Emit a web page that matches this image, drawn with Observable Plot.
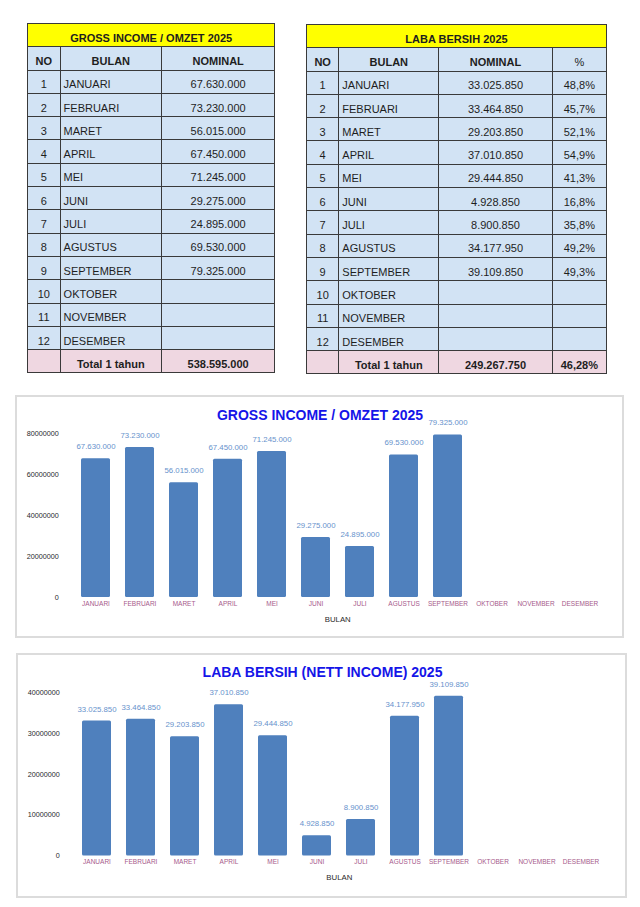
<!DOCTYPE html>
<html>
<head>
<meta charset="utf-8">
<script src="https://cdn.jsdelivr.net/npm/d3@7"></script>
<script src="https://cdn.jsdelivr.net/npm/@observablehq/plot@0.6"></script>
<style>
  html, body { margin: 0; padding: 0; background: #ffffff; }
  body { width: 640px; height: 907px; position: relative; overflow: hidden; font-family: "Liberation Sans", Arial, sans-serif; }
  table.t { position: absolute; border-collapse: collapse; table-layout: fixed; font-size: 11px; color: #1e1e1e; }
  table.t td { border: 1px solid #3a3a3a; background: #d2e3f4; padding: 6px 3px 0 3px; line-height: 13px; white-space: nowrap; overflow: hidden; vertical-align: middle; }
  table.t tr { height: 23.3px; }
  table.t td.hdr { background: #ffff00; font-weight: bold; text-align: center; }
  table.t td.b { font-weight: bold; }
  table.t td.c { text-align: center; }
  table.t td.tot { background: #efd7e1; }
  .box { position: absolute; border: 2px solid #dcdcdc; box-sizing: border-box; background: #fff; }
  .title { position: absolute; transform: translateX(-50%); font: bold 14px "Liberation Sans", Arial, sans-serif; color: #1515e8; white-space: nowrap; line-height: 16px; }
  .chart { position: absolute; }
</style>
</head>
<body>
<script>
// ---- data ----
const months = ["JANUARI","FEBRUARI","MARET","APRIL","MEI","JUNI","JULI","AGUSTUS","SEPTEMBER","OKTOBER","NOVEMBER","DESEMBER"];
const gross = [67630000, 73230000, 56015000, 67450000, 71245000, 29275000, 24895000, 69530000, 79325000, null, null, null];
const nett = [33025850, 33464850, 29203850, 37010850, 29444850, 4928850, 8900850, 34177950, 39109850, null, null, null];
const nettPct = ["48,8%","45,7%","52,1%","54,9%","41,3%","16,8%","35,8%","49,2%","49,3%","","",""];
const grossTotal = 538595000;
const nettTotal = 249267750;
const nettTotalPct = "46,28%";
const grossTicks = [0, 20000000, 40000000, 60000000, 80000000];
const nettTicks = [0, 10000000, 20000000, 30000000, 40000000];
const grossTitle = "GROSS INCOME / OMZET 2025";
const nettTableTitle = "LABA BERSIH 2025";
const nettChartTitle = "LABA BERSIH (NETT INCOME) 2025";

const idFmt = d3.formatLocale({decimal: ",", thousands: ".", grouping: [3], currency: ["", ""]}).format(",d");
const fmt = v => (v == null ? "" : idFmt(v));

// ---- tables ----
function makeTable(left, top, widths, title, rows, totalCells, headers) {
  const t = document.createElement("table");
  t.className = "t";
  t.style.left = left + "px";
  t.style.top = top + "px";
  t.style.width = widths.reduce((a, b) => a + b, 0) + "px";
  let h = "<colgroup>" + widths.map(w => `<col style="width:${w}px">`).join("") + "</colgroup>";
  h += `<tr><td class="hdr" colspan="${widths.length}">${title}</td></tr>`;
  h += "<tr>" + headers.map(x => `<td class="c ${x.bold ? "b" : ""}">${x.text}</td>`).join("") + "</tr>";
  rows.forEach(r => {
    h += "<tr>" + r.map((x, j) => `<td class="${j === 1 ? "" : "c"}">${x}</td>`).join("") + "</tr>";
  });
  h += "<tr>" + totalCells.map(x => `<td class="tot c b">${x}</td>`).join("") + "</tr>";
  t.innerHTML = h;
  document.body.appendChild(t);
}

makeTable(27, 23, [32.6, 101.4, 113.3], grossTitle,
  months.map((m, i) => [i + 1, m, fmt(gross[i])]),
  ["", "Total 1 tahun", fmt(grossTotal)],
  [{text: "NO", bold: true}, {text: "BULAN", bold: true}, {text: "NOMINAL", bold: true}]);

makeTable(306, 24, [32.3, 100, 113.4, 54.3], nettTableTitle,
  months.map((m, i) => [i + 1, m, fmt(nett[i]), nettPct[i]]),
  ["", "Total 1 tahun", fmt(nettTotal), nettTotalPct],
  [{text: "NO", bold: true}, {text: "BULAN", bold: true}, {text: "NOMINAL", bold: true}, {text: "%", bold: false}]);

// ---- charts ----
function addBox(left, top, w, h) {
  const d = document.createElement("div");
  d.className = "box";
  Object.assign(d.style, {left: left + "px", top: top + "px", width: w + "px", height: h + "px"});
  document.body.appendChild(d);
}
function addTitle(text, cx, cy) {
  const d = document.createElement("div");
  d.className = "title";
  d.textContent = text;
  d.style.left = cx + "px";
  d.style.top = (cy - 8) + "px";
  document.body.appendChild(d);
}
function chart(values, ticks, o) {
  const data = months.map((m, i) => ({month: m, value: values[i]}));
  const filled = data.filter(d => d.value != null);
  const svg = Plot.plot({
    width: o.width, height: o.height,
    marginLeft: o.ml, marginRight: o.mr, marginTop: o.mt, marginBottom: o.mb,
    style: {fontFamily: "'Liberation Sans', Arial, sans-serif", background: "transparent", overflow: "visible"},
    x: {domain: months, paddingInner: 0.35, paddingOuter: 0.175, label: null},
    y: {domain: [0, ticks[ticks.length - 1]], label: null},
    marks: [
      Plot.barY(filled, {x: "month", y: "value", fill: "#4f80bd", rx: 1.5}),
      Plot.text(filled, {x: "month", y: "value", text: d => fmt(d.value), dy: -12, fill: "#6792cc", fontSize: 7.8}),
      Plot.axisX({tickSize: 0, tickPadding: 3.5, fontSize: 6.5, color: "#a65a8b", label: null}),
      Plot.axisY({ticks: ticks, tickSize: 0, tickPadding: 12, tickFormat: d => String(d), fontSize: 7.2, color: "#2a2a2a", label: null}),
      Plot.text(["BULAN"], {frameAnchor: "bottom", dy: 24, fontSize: 7.8, fill: "#2a2a2a"})
    ]
  });
  svg.classList.add("chart");
  svg.style.left = o.left + "px";
  svg.style.top = o.top + "px";
  document.body.appendChild(svg);
}

addBox(15, 395, 609, 243);
chart(gross, grossTicks, {left: 16, top: 396, width: 607, height: 241, ml: 54.25, mr: 18.75, mt: 37, mb: 40});
addTitle(grossTitle, 320, 415);

addBox(16, 653, 611, 245);
chart(nett, nettTicks, {left: 17, top: 654, width: 609, height: 243, ml: 54.2, mr: 19.6, mt: 38, mb: 41.5});
addTitle(nettChartTitle, 322.5, 672);
</script>
</body>
</html>
